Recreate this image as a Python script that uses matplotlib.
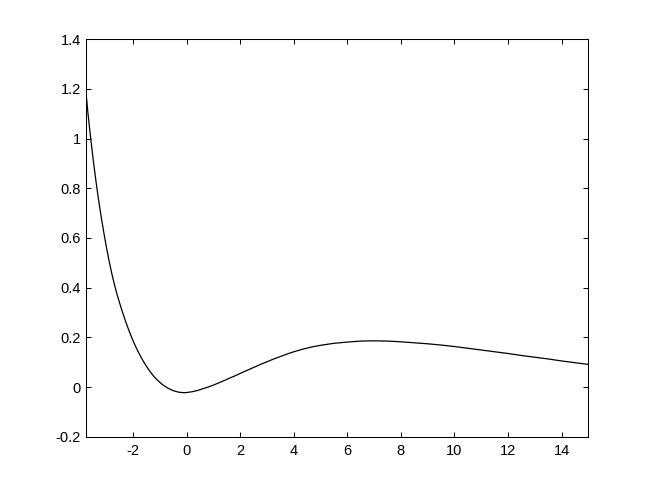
import matplotlib
matplotlib.use("Agg")
import matplotlib.pyplot as plt

# values
x_vals = [-3.78, -3.70, -3.60, -3.50, -3.40, -3.30, -3.20, -3.10, -3.00, -2.90,
          -2.80, -2.70, -2.60, -2.50, -2.40, -2.30, -2.20, -2.10, -2.00, -1.90,
          -1.80, -1.70, -1.60, -1.50, -1.40, -1.30, -1.20, -1.10, -1.00, -0.90,
          -0.80, -0.70, -0.60, -0.50, -0.40, -0.30, -0.20, -0.10, 0.00, 0.20,
          0.40, 0.60, 0.80, 1.00, 1.20, 1.40, 1.60, 1.80, 2.00, 2.25,
          2.50, 2.75, 3.00, 3.25, 3.50, 3.75, 4.00, 4.25, 4.50, 4.75,
          5.00, 5.50, 6.00, 6.50, 7.00, 7.50, 8.00, 8.50, 9.00, 9.50,
          10.0, 10.5, 11.0, 11.5, 12.0, 12.5, 13.0, 13.5, 14.0, 14.5, 15.0]
y_vals = [1.200, 1.108, 1.008, 0.916, 0.832, 0.755, 0.685, 0.620, 0.560, 0.505,
          0.455, 0.410, 0.370, 0.334, 0.300, 0.268, 0.238, 0.210, 0.184, 0.160,
          0.138, 0.118, 0.099, 0.082, 0.066, 0.052, 0.039, 0.028, 0.018, 0.009,
          0.002, -0.005, -0.010, -0.015, -0.018, -0.021, -0.022, -0.023, -0.022, -0.019,
          -0.014, -0.007, 0.000, 0.008, 0.017, 0.026, 0.036, 0.045, 0.055, 0.067,
          0.079, 0.091, 0.102, 0.113, 0.123, 0.133, 0.142, 0.150, 0.157, 0.163,
          0.168, 0.176, 0.181, 0.185, 0.186, 0.185, 0.182, 0.178, 0.174, 0.169,
          0.163, 0.156, 0.149, 0.142, 0.135, 0.127, 0.120, 0.113, 0.105, 0.098, 0.091]

x_ticks = [-2, 0, 2, 4, 6, 8, 10, 12, 14]
y_ticks = [-0.2, 0, 0.2, 0.4, 0.6, 0.8, 1.0, 1.2, 1.4]
y_labels = ["-0.2", "0", "0.2", "0.4", "0.6", "0.8", "1", "1.2", "1.4"]

plt.rcParams['font.family'] = ['Liberation Sans', 'DejaVu Sans']

fig = plt.figure(figsize=(6.54, 4.91), dpi=100)
ax = fig.add_axes([0.131, 0.1106, 0.7685, 0.8094])

ax.plot(x_vals, y_vals, color='black', linewidth=0.9, solid_joinstyle='round')

ax.set_xlim(-3.78, 15)
ax.set_ylim(-0.2, 1.4)
ax.set_xticks(x_ticks)
ax.set_xticklabels([str(t) for t in x_ticks])
ax.set_yticks(y_ticks)
ax.set_yticklabels(y_labels)

ax.tick_params(direction='in', top=True, right=True, length=3.6, width=0.75,
               labelsize=10.5, colors='black')
ax.tick_params(axis='x', pad=5.5)
ax.tick_params(axis='y', pad=3.5)
for sp in ax.spines.values():
    sp.set_linewidth(0.75)
    sp.set_color('black')

fig.savefig("out.png", dpi=100)
